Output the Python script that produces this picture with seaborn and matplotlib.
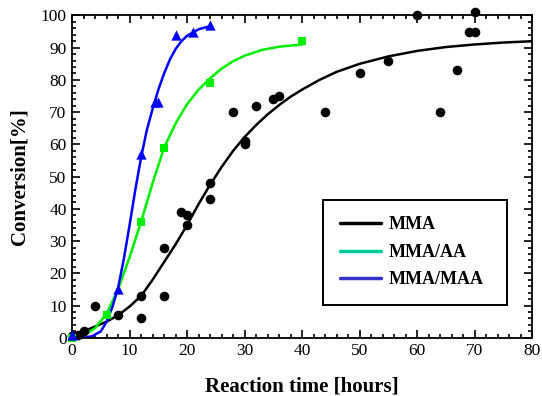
import numpy as np
import pandas as pd
import seaborn as sns
import matplotlib.pyplot as plt
from matplotlib.lines import Line2D
from matplotlib.ticker import MultipleLocator

# measured points
mma_t = [0, 1, 2, 4, 8, 12, 12, 16, 16, 19, 20, 20, 24, 24, 28, 30, 30, 32, 35, 36,
         44, 50, 55, 60, 64, 67, 69, 70, 70]
mma_c = [0.5, 1, 2, 10, 7, 13, 6, 28, 13, 39, 38, 35, 48, 43, 70, 61, 60, 72, 74, 75,
         70, 82, 86, 100, 70, 83, 95, 95, 101]
aa_t = [0, 6, 12, 16, 24, 40]
aa_c = [0, 7, 36, 59, 79, 92]
maa_t = [0, 8, 12, 14.5, 15, 18, 21, 24]
maa_c = [1, 15, 57, 73, 73, 94, 95, 97]

# fitted curves
mma_fit_t = [0, 2, 4, 6, 8, 10, 12, 14, 16, 18, 20, 22, 24, 26, 28, 30, 32, 34, 36, 38,
             40, 43, 46, 50, 55, 60, 65, 70, 75, 80]
mma_fit_c = [1, 2, 3.5, 5, 7, 9.7, 13, 18, 23.5, 29, 35, 41.5, 47.5, 53, 58, 62.3, 66,
             69.3, 72.2, 74.8, 77, 80, 82.5, 85, 87.3, 89, 90.2, 91, 91.6, 92]
aa_fit_t = [0, 2, 4, 6, 8, 10, 12, 14, 16, 18, 20, 22, 24, 26, 28, 30, 33, 36, 40]
aa_fit_c = [0, 0.8, 3, 7.5, 15, 25, 36, 48, 59, 66.5, 72.5, 77, 80.5, 83.5, 85.8, 87.5,
            89.3, 90.3, 91]
maa_fit_t = [0, 2, 3.5, 5, 6, 7, 8, 9, 10, 11, 12, 13, 14, 15, 16, 17, 18, 19, 20, 22, 24]
maa_fit_c = [0, 0, 0.5, 2, 5, 9.5, 15.5, 24.5, 35, 46, 56, 64.5, 71, 77, 82, 86.3, 89.6,
             92, 93.7, 95.7, 96.7]

sns.set_theme(style="ticks")
plt.rcParams['font.family'] = ['Liberation Serif', 'DejaVu Serif']
plt.rcParams['text.color'] = 'black'
plt.rcParams['axes.labelcolor'] = 'black'
plt.rcParams['xtick.color'] = 'black'
plt.rcParams['ytick.color'] = 'black'

fig, ax = plt.subplots(figsize=(5.42, 3.96), dpi=100)
fig.subplots_adjust(left=0.133, right=0.982, bottom=0.147, top=0.961)

sns.lineplot(x=mma_fit_t, y=mma_fit_c, color='black', lw=1.8, ax=ax)
sns.lineplot(x=aa_fit_t, y=aa_fit_c, color='#00ee00', lw=1.8, ax=ax)
sns.lineplot(x=maa_fit_t, y=maa_fit_c, color='#0000ff', lw=1.8, ax=ax)

sns.scatterplot(x=mma_t, y=mma_c, color='black', marker='o', s=48, linewidth=0, ax=ax, clip_on=False, zorder=3)
sns.scatterplot(x=aa_t, y=aa_c, color='#00ee00', marker='s', s=30, linewidth=0, ax=ax, clip_on=False, zorder=3)
sns.scatterplot(x=maa_t, y=maa_c, color='#0000ff', marker='^', s=55, linewidth=0, ax=ax, clip_on=False, zorder=3)

ax.set_xlim(0, 80)
ax.set_ylim(0, 100)
ax.xaxis.set_major_locator(MultipleLocator(10))
ax.xaxis.set_minor_locator(MultipleLocator(2))
ax.yaxis.set_major_locator(MultipleLocator(10))
ax.yaxis.set_minor_locator(MultipleLocator(2))
ax.tick_params(which='both', direction='in', top=True, right=True, width=1.2, colors='black',
               labelsize=12.5, pad=4)
ax.tick_params(which='major', length=6)
ax.tick_params(which='minor', length=3)
for sp in ax.spines.values():
    sp.set_linewidth(1.3)
    sp.set_color('black')

ax.set_xlabel('Reaction time [hours]', fontsize=15, fontweight='bold', labelpad=12, color='black')
ax.set_ylabel('Conversion[%]', fontsize=15, fontweight='bold', labelpad=8, color='black')

handles = [Line2D([], [], color='black', lw=2.5),
           Line2D([], [], color='#00cc99', lw=2.5),
           Line2D([], [], color='#3333cc', lw=2.5)]
leg = ax.legend(handles, ['MMA', 'MMA/AA', 'MMA/MAA'], loc='upper left',
                bbox_to_anchor=(0.546, 0.0, 0.4, 0.427), mode='expand',
                prop={'size': 13, 'weight': 'bold'},
                frameon=True, fancybox=False, edgecolor='black', framealpha=1,
                handlelength=2.3, borderpad=0.9, labelspacing=0.58, handletextpad=0.4,
                borderaxespad=0)
leg.get_frame().set_linewidth(1.4)
for t in leg.get_texts():
    t.set_color('black')

plt.savefig('out.png', dpi=100)
